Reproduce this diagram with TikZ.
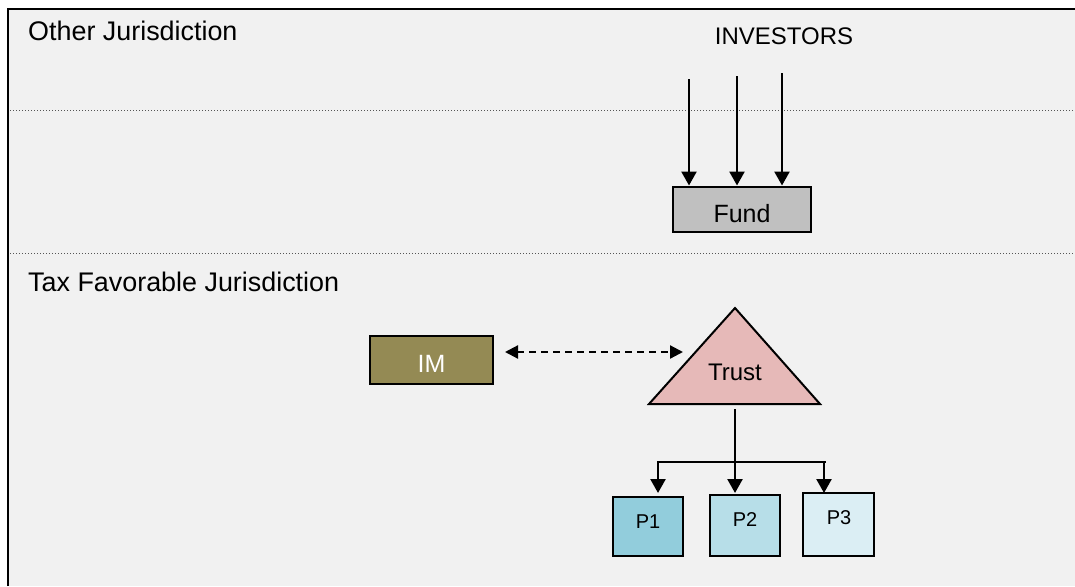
\documentclass[tikz,border=0pt]{standalone}
\usepackage{fontspec}
\setmainfont{Liberation Sans}
\usetikzlibrary{arrows.meta}
\definecolor{bgc}{HTML}{F1F1F1}
\definecolor{fundc}{HTML}{C0C0C0}
\definecolor{imc}{HTML}{948A54}
\definecolor{trustc}{HTML}{E6B9B8}
\definecolor{pone}{HTML}{92CDDC}
\definecolor{ptwo}{HTML}{B7DEE8}
\definecolor{pthree}{HTML}{DBEEF4}
\definecolor{dotc}{HTML}{555555}
\tikzset{
  box/.style={draw=black, line width=2pt, inner sep=0pt},
  txt/.style={inner sep=0pt, anchor=base},
  lbl/.style={inner sep=0pt, anchor=base west, font=\fontsize{26.9}{31}\selectfont},
  arr/.style={line width=2.5pt, -{Triangle[width=15pt,length=14pt]}},
  dashedarr/.style={line width=2.2pt, dash pattern=on 7pt off 5pt,
    {Triangle[width=13pt,length=13pt]}-{Triangle[width=13pt,length=13pt]}},
  sep/.style={dotc, line width=1pt, dash pattern=on 1pt off 2pt},
  plain/.style={line width=2.5pt}
}
\begin{document}
\begin{tikzpicture}[x=1pt,y=-1pt]
\useasboundingbox (0,0) rectangle (1075,586);
\fill[white] (0,0) rectangle (1075,586);
\fill[bgc] (8,9) rectangle (1075,586);
\draw[line width=2.5pt] (8,586) -- (8,9) -- (1075,9);

% separators
\draw[sep] (10,110) -- (1075,110);
\draw[sep] (10,253) -- (1075,253);

% region labels
\node[lbl] (other) at (28,41) {Other Jurisdiction};
\node[lbl] (tax) at (28,291) {Tax Favorable Jurisdiction};
\node[txt, font=\fontsize{24}{28}\selectfont] (inv) at (784,45) {INVESTORS};

% Fund
\node[box, fill=fundc, minimum width=138pt, minimum height=45pt] (fund) at (742,209) {};
\node[txt, font=\fontsize{25}{30}\selectfont] (tfund) at (742,222) {Fund};

% investor arrows
\coordinate (i1) at (689,79);
\coordinate (i2) at (737,76);
\coordinate (i3) at (782,73);
\draw[arr] (i1) -- (i1 |- fund.north);
\draw[arr] (i2) -- (i2 |- fund.north);
\draw[arr] (i3) -- (i3 |- fund.north);

% IM
\node[box, fill=imc, minimum width=123pt, minimum height=48pt] (im) at (431.5,359.5) {};
\node[txt, white, font=\fontsize{25}{30}\selectfont] (tim) at (431.5,372) {IM};

% Trust triangle
\coordinate (ta) at (735,308);
\coordinate (tl) at (649,404);
\coordinate (tr) at (820,404);
\draw[fill=trustc, line width=2pt, line join=miter] (ta) -- (tl) -- (tr) -- cycle;
\node[txt, font=\fontsize{24}{28}\selectfont] (trust) at (735,380) {Trust};

% dashed double arrow
\coordinate (dl) at (505,352);
\coordinate (dr) at (683,352);
\draw[dashedarr] (dl) -- (dr);

% P boxes
\node[box, fill=pone, minimum width=70pt, minimum height=59pt] (p1) at (648,526.5) {};
\node[box, fill=ptwo, minimum width=70pt, minimum height=61pt] (p2) at (745,525.5) {};
\node[box, fill=pthree, minimum width=71pt, minimum height=63pt] (p3) at (838.5,524.5) {};
\node[txt, font=\fontsize{20}{24}\selectfont] (tp1) at (648,528) {P1};
\node[txt, font=\fontsize{20}{24}\selectfont] (tp2) at (745,526) {P2};
\node[txt, font=\fontsize{20}{24}\selectfont] (tp3) at (839,524) {P3};

% tree connector
\coordinate (tb) at (735,409);
\coordinate (hj) at (735,462);
\coordinate (hl) at (658,462);
\coordinate (hr) at (825,462);
\draw[plain] (tb) -- (hj);
\draw[plain, line cap=rect] (hl) -- (hr);
\draw[arr] (hl) -- (658,493);
\draw[arr] (hj) -- (735,493);
\draw[arr] (824,462) -- (824,493);
\end{tikzpicture}
\end{document}
